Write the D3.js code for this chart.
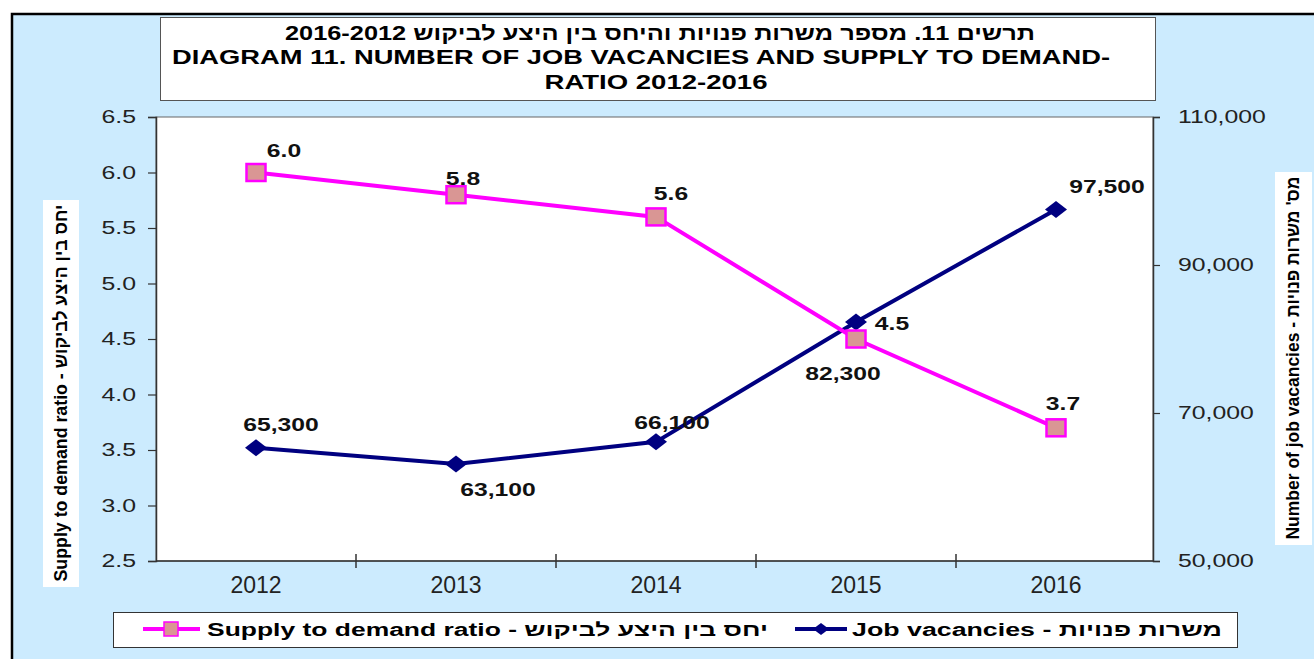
<!DOCTYPE html>
<html>
<head>
<meta charset="utf-8">
<script src="https://cdn.jsdelivr.net/npm/d3@7"></script>
<style>
  body { margin: 0; background: #fff; }
  svg { display: block; font-family: "Liberation Sans", Arial, sans-serif; }
</style>
</head>
<body>
<div id="chart"></div>
<script>
var years = ['2012', '2013', '2014', '2015', '2016'];
var ratio = [6.0, 5.8, 5.6, 4.5, 3.7];
var vacancies = [65300, 63100, 66100, 82300, 97500];
var ratioTicks = [2.5, 3.0, 3.5, 4.0, 4.5, 5.0, 5.5, 6.0, 6.5];
var vacTicks = [50000, 70000, 90000, 110000];
var titleHe = 'תרשים 11. מספר משרות פנויות והיחס בין היצע לביקוש 2016-2012';
var titleEn1 = 'DIAGRAM 11. NUMBER OF JOB VACANCIES AND SUPPLY TO DEMAND-';
var titleEn2 = 'RATIO 2012-2016';
var leftTitle = 'Supply to demand ratio - יחס בין היצע לביקוש';
var rightTitle = 'Number of job vacancies - מס\' משרות פנויות';
var legendNames = ['Supply to demand ratio - יחס בין היצע לביקוש', 'Job vacancies - משרות פנויות'];

var w = 1314, h = 659;
var plot = {left: 156, right: 1153, top: 117, bottom: 561};

var svg = d3.select('#chart').append('svg')
  .attr('width', w).attr('height', h);

// outer frame
svg.append('rect')
  .attr('x', 12).attr('y', 14).attr('width', w + 20).attr('height', h + 20)
  .attr('fill', '#CCEBFE').attr('stroke', '#000').attr('stroke-width', 2.5);

// title box
svg.append('rect')
  .attr('x', 160.5).attr('y', 17.5).attr('width', 995).attr('height', 83)
  .attr('fill', '#fff').attr('stroke', '#555').attr('stroke-width', 1);

svg.append('text').text(titleHe)
  .attr('x', 660).attr('y', 40).attr('text-anchor', 'middle').attr('direction', 'rtl')
  .attr('font-size', 20).attr('font-weight', 'bold')
  .attr('textLength', 750).attr('lengthAdjust', 'spacingAndGlyphs');
svg.append('text').text(titleEn1)
  .attr('x', 641).attr('y', 64).attr('text-anchor', 'middle')
  .attr('font-size', 20).attr('font-weight', 'bold')
  .attr('textLength', 938).attr('lengthAdjust', 'spacingAndGlyphs');
svg.append('text').text(titleEn2)
  .attr('x', 656).attr('y', 89).attr('text-anchor', 'middle')
  .attr('font-size', 20).attr('font-weight', 'bold')
  .attr('textLength', 223).attr('lengthAdjust', 'spacingAndGlyphs');

// plot area
svg.append('rect')
  .attr('x', plot.left).attr('y', plot.top)
  .attr('width', plot.right - plot.left).attr('height', plot.bottom - plot.top)
  .attr('fill', '#fff').attr('stroke', '#666').attr('stroke-width', 1);

var x = d3.scaleBand().domain(years).range([plot.left, plot.left + 1000]);
var yL = d3.scaleLinear().domain([2.5, 6.5]).range([plot.bottom, plot.top]);
var yR = d3.scaleLinear().domain([50000, 110000]).range([plot.bottom, plot.top]);

function cx(d, i) { return x(years[i]) + x.bandwidth() / 2; }

function stretch(sel, s) {
  sel.each(function() {
    var t = d3.select(this);
    var tx = +t.attr('x') || 0;
    t.attr('x', 0).attr('transform', 'translate(' + tx + ',0) scale(' + s + ',1)');
  });
}

function styleAxis(g) {
  g.select('.domain').attr('stroke', '#333').attr('stroke-width', 1.5);
  g.selectAll('.tick line').attr('stroke', '#333').attr('stroke-width', 1.2);
  g.selectAll('text').attr('fill', '#222').attr('font-family', '"Liberation Sans", Arial, sans-serif');
}

// left axis
var gL = svg.append('g').attr('transform', 'translate(' + plot.left + ',0)')
  .call(d3.axisLeft(yL).tickValues(ratioTicks).tickFormat(d3.format('.1f'))
    .tickSizeOuter(0).tickSize(8).tickPadding(12));
styleAxis(gL);
gL.selectAll('text').attr('font-size', 18);
stretch(gL.selectAll('text'), 1.38);

// right axis
var gR = svg.append('g').attr('transform', 'translate(' + plot.right + ',0)')
  .call(d3.axisRight(yR).tickValues(vacTicks).tickFormat(d3.format(','))
    .tickSizeOuter(0).tickSize(7).tickPadding(18));
styleAxis(gR);
gR.selectAll('text').attr('font-size', 18.5);
stretch(gR.selectAll('text'), 1.34);

// bottom axis
var gB = svg.append('g').attr('transform', 'translate(0,' + plot.bottom + ')')
  .call(d3.axisBottom(x).tickSize(0).tickPadding(16).tickSizeOuter(0));
styleAxis(gB);
gB.select('.domain').attr('d', 'M' + plot.left + ',0H' + plot.right);
gB.selectAll('text').attr('font-size', 23);

// category boundary ticks crossing the axis
gB.selectAll('.sep').data(years.slice(0, -1)).enter().append('line')
  .attr('class', 'sep')
  .attr('x1', function(d) { return x(d) + x.bandwidth(); })
  .attr('x2', function(d) { return x(d) + x.bandwidth(); })
  .attr('y1', -7).attr('y2', 7)
  .attr('stroke', '#333').attr('stroke-width', 1.5);

// axis titles
svg.append('rect').attr('x', 43).attr('y', 200).attr('width', 36).attr('height', 387).attr('fill', '#fff');
svg.append('text').text(leftTitle)
  .attr('transform', 'translate(61,393) rotate(-90)')
  .attr('text-anchor', 'middle').attr('dy', '0.35em')
  .attr('font-size', 18).attr('font-weight', 'bold')
  .attr('font-family', '"Liberation Sans Narrow", "Liberation Sans", Arial, sans-serif')
  .attr('textLength', 377).attr('lengthAdjust', 'spacingAndGlyphs');

svg.append('rect').attr('x', 1275).attr('y', 172).attr('width', 37).attr('height', 373).attr('fill', '#fff');
svg.append('text').text(rightTitle)
  .attr('transform', 'translate(1293,358) rotate(-90)')
  .attr('text-anchor', 'middle').attr('dy', '0.35em')
  .attr('font-size', 18).attr('font-weight', 'bold')
  .attr('font-family', '"Liberation Sans Narrow", "Liberation Sans", Arial, sans-serif')
  .attr('textLength', 363).attr('lengthAdjust', 'spacingAndGlyphs');

// lines
var lineL = d3.line().x(cx).y(function(d) { return yL(d); });
var lineR = d3.line().x(cx).y(function(d) { return yR(d); });

var pink = '#FF00FF', navy = '#000080', squareFill = '#D99694';

svg.append('path').datum(vacancies).attr('d', lineR)
  .attr('fill', 'none').attr('stroke', navy).attr('stroke-width', 4);
svg.append('path').datum(ratio).attr('d', lineL)
  .attr('fill', 'none').attr('stroke', pink).attr('stroke-width', 4);

var diamond = 'M0,-8.5L11,0L0,8.5L-11,0Z';
svg.selectAll('.dia').data(vacancies).enter().append('path')
  .attr('class', 'dia').attr('d', diamond).attr('fill', navy)
  .attr('transform', function(d, i) { return 'translate(' + cx(d, i) + ',' + yR(d) + ')'; });

svg.selectAll('.sq').data(ratio).enter().append('rect')
  .attr('class', 'sq')
  .attr('x', function(d, i) { return cx(d, i) - 9.5; })
  .attr('y', function(d) { return yL(d) - 8.5; })
  .attr('width', 19).attr('height', 17)
  .attr('fill', squareFill).attr('stroke', pink).attr('stroke-width', 2.5);

// data labels (offsets from each point)
var ratioOff = [[28, -16], [7, -10], [15, -17], [36, -9], [7, -18]];
var vacOff = [[25, -17], [42, 32], [16, -13], [-13, 58], [51, -17]];

function labels(data, y, off, fmt) {
  svg.selectAll(null).data(data).enter().append('text')
    .text(fmt)
    .attr('text-anchor', 'middle')
    .attr('font-size', 19).attr('font-weight', 'bold').attr('fill', '#111')
    .attr('transform', function(d, i) {
      return 'translate(' + (cx(d, i) + off[i][0]) + ',' + (y(d) + off[i][1]) + ') scale(1.3,1)';
    });
}
labels(ratio, yL, ratioOff, d3.format('.1f'));
labels(vacancies, yR, vacOff, d3.format(','));

// legend
var lg = svg.append('g');
lg.append('rect').attr('x', 113.5).attr('y', 612.5).attr('width', 1124).attr('height', 35)
  .attr('fill', '#fff').attr('stroke', '#333').attr('stroke-width', 1);

var legY = 629;
lg.append('line').attr('x1', 143).attr('x2', 200).attr('y1', legY).attr('y2', legY)
  .attr('stroke', pink).attr('stroke-width', 4);
lg.append('rect').attr('x', 164).attr('y', legY - 7).attr('width', 14).attr('height', 14)
  .attr('fill', squareFill).attr('stroke', pink).attr('stroke-width', 1.5);
lg.append('text').text(legendNames[0])
  .attr('x', 207).attr('y', 636).attr('font-size', 18).attr('font-weight', 'bold')
  .attr('textLength', 561).attr('lengthAdjust', 'spacingAndGlyphs');

lg.append('line').attr('x1', 795).attr('x2', 847).attr('y1', legY).attr('y2', legY)
  .attr('stroke', navy).attr('stroke-width', 4);
lg.append('path').attr('d', 'M0,-6L8,0L0,6L-8,0Z').attr('fill', navy)
  .attr('transform', 'translate(821,' + legY + ')');
lg.append('text').text(legendNames[1])
  .attr('x', 852).attr('y', 636).attr('font-size', 18).attr('font-weight', 'bold')
  .attr('textLength', 370).attr('lengthAdjust', 'spacingAndGlyphs');
</script>
</body>
</html>
